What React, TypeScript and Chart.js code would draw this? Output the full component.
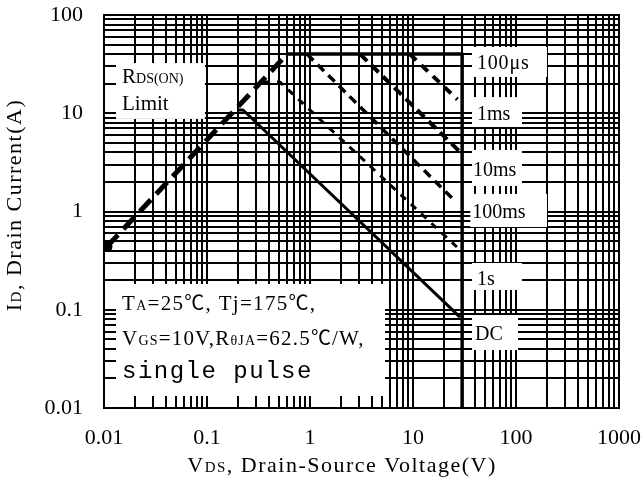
import React, { useEffect, useRef } from 'react';
import { Chart, registerables } from 'chart.js';

Chart.register(...registerables);

// ---- axes ----
const xDecades = [0.01, 0.1, 1, 10, 100];
const xLast = 1000;
const yDecades = [0.01, 0.1, 1, 10];
const yLast = 100;
const minorSteps = [1, 2, 3, 4, 5, 6, 7, 8, 9];
const xTickLabelValues = [0.01, 0.1, 1, 10, 100, 1000];
const xTickLabels = ['0.01', '0.1', '1', '10', '100', '1000'];
const yTickLabelValues = [0.01, 0.1, 1, 10, 100];
const yTickLabels = ['0.01', '0.1', '1', '10', '100'];

// ---- series (V, A) ----
const rdsLimitV = [0.0107, 0.6];
const rdsLimitA = [0.44, 40];
const packageLimitV = [0.6, 30, 30];
const packageLimitA = [40, 40, 0.01];
const pulse100usV = [9.3, 27];
const pulse100usA = [40, 13.8];
const pulse1msV = [3.06, 28.6];
const pulse1msA = [40, 4.04];
const pulse10msV = [0.935, 23.9];
const pulse10msA = [40, 1.37];
const pulse100msV = [0.35, 0.51, 26.7];
const pulse100msA = [20.8, 20.8, 0.435];
const dcV = [0.2, 0.224, 28.6];
const dcA = [10.8, 10.8, 0.084];

// ---- texts ----
const SERIF = '"Liberation Serif", "Times New Roman", "Noto Sans CJK TC", serif';
const MONO = '"Liberation Mono", "Courier New", monospace';
const CJK = '"Noto Sans CJK TC", "Noto Sans CJK SC", sans-serif';
type Part = [string, number, string?];
const xTitleParts: Part[] = [['V', 22], ['DS', 15], [', Drain-Source Voltage(V)', 22]];
const yTitleParts: Part[] = [['I', 22], ['D', 15], [', Drain Current(A)', 22]];

interface Box {
  x0: number; x1: number; y0: number; y1: number;
  lines: { parts: Part[]; dx: number; dy: number; spacing?: number }[];
}
const boxes: Box[] = [
  { x0: 0.01308, x1: 0.0954, y0: 32.4, y1: 8.76, lines: [
    { parts: [['R', 21], ['DS(ON)', 14]], dx: 6, dy: 20 },
    { parts: [['Limit', 21]], dx: 6, dy: 47 },
  ] },
  { x0: 0.01308, x1: 5.35, y0: 0.183, y1: 0.01324, lines: [
    { parts: [['T', 21], ['A', 14], ['=25', 21], ['℃', 20, CJK], [', Tj=175', 21], ['℃', 20, CJK], [',', 21]], dx: 6, dy: 26, spacing: 1.3 },
    { parts: [['V', 21], ['GS', 14], ['=10V,', 21], ['R', 21], ['θJA', 14], ['=62.5', 21], ['℃', 20, CJK], ['/W,', 21]], dx: 6, dy: 61, spacing: 1.2 },
    { parts: [['single pulse', 24, MONO]], dx: 6, dy: 94, spacing: 1.5 },
  ] },
  { x0: 37.4, x1: 200, y0: 47.2, y1: 23.4, lines: [{ parts: [['100μs', 20]], dx: 5, dy: 22, spacing: 0.8 }] },
  { x0: 37.4, x1: 114.3, y0: 14.6, y1: 7.24, lines: [{ parts: [['1ms', 20]], dx: 5, dy: 23 }] },
  { x0: 37.4, x1: 114.3, y0: 4.23, y1: 1.82, lines: [{ parts: [['10ms', 20]], dx: 1, dy: 26 }] },
  { x0: 36.0, x1: 200, y0: 1.51, y1: 0.695, lines: [{ parts: [['100ms', 20]], dx: 2, dy: 24 }] },
  { x0: 37.4, x1: 114.3, y0: 0.299, y1: 0.159, lines: [{ parts: [['1s', 20]], dx: 5, dy: 22 }] },
  { x0: 37.4, x1: 104.6, y0: 0.0884, y1: 0.0389, lines: [{ parts: [['DC', 20]], dx: 3, dy: 25 }] },
];

function fontOf(p: Part) {
  return `${p[1]}px ${p[2] || SERIF}`;
}
function drawParts(ctx: CanvasRenderingContext2D, parts: Part[], x: number, y: number, center = false, spacing = 0) {
  ctx.save();
  (ctx as any).letterSpacing = `${spacing}px`;
  const widths = parts.map((p) => { ctx.font = fontOf(p); return ctx.measureText(p[0]).width; });
  const total = widths.reduce((a, b) => a + b, 0);
  let cx = center ? x - total / 2 : x;
  ctx.fillStyle = '#000';
  ctx.textBaseline = 'alphabetic';
  ctx.textAlign = 'left';
  parts.forEach((p, i) => { ctx.font = fontOf(p); ctx.fillText(p[0], cx, y); cx += widths[i]; });
  ctx.restore();
}

const pts = (xs: number[], ys: number[]) => xs.map((x, i) => ({ x, y: ys[i] }));
const near = (a: number, b: number) => Math.abs(Math.log10(a) - Math.log10(b)) < 1e-6;

const overlay = {
  id: 'overlay',
  beforeDatasetsDraw(chart: any) {
    const { ctx, chartArea } = chart;
    const xs = chart.scales.x;
    const ys = chart.scales.y;
    ctx.save();
    boxes.forEach((b) => {
      const l = xs.getPixelForValue(b.x0);
      const r = xs.getPixelForValue(b.x1);
      const t = ys.getPixelForValue(b.y0);
      const bt = ys.getPixelForValue(b.y1);
      ctx.fillStyle = '#fff';
      ctx.fillRect(l, t, r - l, bt - t);
      b.lines.forEach((ln) => drawParts(ctx, ln.parts, l + ln.dx, t + ln.dy, false, ln.spacing || 0));
    });
    // frame
    ctx.strokeStyle = '#000';
    ctx.lineWidth = 2;
    ctx.strokeRect(chartArea.left, chartArea.top, chartArea.right - chartArea.left, chartArea.bottom - chartArea.top);
    // axis titles
    drawParts(ctx, xTitleParts, 342, 472, true, 1.5);
    ctx.save();
    ctx.translate(21, 205);
    ctx.rotate(-Math.PI / 2);
    drawParts(ctx, yTitleParts, 0, 0, true, 1.5);
    ctx.restore();
    ctx.restore();
  },
};

export default function App() {
  const ref = useRef<HTMLCanvasElement>(null);
  useEffect(() => {
    document.body.style.margin = '0';
    const xTicks = [...xDecades.flatMap((d) => minorSteps.map((m) => d * m)), xLast];
    const yTicks = [...yDecades.flatMap((d) => minorSteps.map((m) => d * m)), yLast];
    const line = (data: any[], width: number, dash: number[], extra: any = {}) => ({
      data, showLine: true, borderColor: '#000', backgroundColor: '#000', borderWidth: width,
      borderDash: dash, pointRadius: 0, tension: 0, borderCapStyle: 'butt', borderJoinStyle: 'round', ...extra,
    });
    const chart = new Chart(ref.current!, {
      type: 'scatter',
      data: {
        datasets: [
          line(pts(packageLimitV, packageLimitA), 3.5, []),
          line(pts(rdsLimitV, rdsLimitA), 5, [16, 8], { pointRadius: [3, 0], pointStyle: 'circle' }),
          line(pts(pulse100usV, pulse100usA), 4, [9, 7]),
          line(pts(pulse1msV, pulse1msA), 4, [10, 6]),
          line(pts(pulse10msV, pulse10msA), 3.5, [9, 6]),
          line(pts(pulse100msV, pulse100msA), 3, [7, 7]),
          line(pts(dcV, dcA), 3, []),
        ] as any,
      },
      options: {
        animation: false,
        responsive: false,
        devicePixelRatio: 1,
        layout: { padding: { left: 0, top: 15, right: 24, bottom: 0 } },
        plugins: { legend: { display: false }, tooltip: { enabled: false } },
        scales: {
          x: {
            type: 'logarithmic', min: 0.01, max: 1000,
            afterBuildTicks: (s: any) => { s.ticks = xTicks.map((v) => ({ value: v })); },
            afterFit: (s: any) => { s.height = 76; s.paddingLeft = 0; s.paddingRight = 0; },
            grid: { color: '#000', lineWidth: 2, drawTicks: false },
            border: { display: false },
            ticks: {
              autoSkip: false, maxRotation: 0, padding: 17, color: '#000',
              font: { family: SERIF, size: 22 },
              callback: (v: any) => { const i = xTickLabelValues.findIndex((m) => near(Number(v), m)); return i >= 0 ? xTickLabels[i] : ''; },
            },
          },
          y: {
            type: 'logarithmic', min: 0.01, max: 100,
            afterBuildTicks: (s: any) => { s.ticks = yTicks.map((v) => ({ value: v })); },
            afterFit: (s: any) => { s.width = 104; s.paddingTop = 0; s.paddingBottom = 0; },
            grid: { color: '#000', lineWidth: 2, drawTicks: false },
            border: { display: false },
            ticks: {
              autoSkip: false, padding: 21, color: '#000',
              font: { family: SERIF, size: 22 },
              callback: (v: any) => { const i = yTickLabelValues.findIndex((m) => near(Number(v), m)); return i >= 0 ? yTickLabels[i] : ''; },
            },
          },
        },
      } as any,
      plugins: [overlay],
    });
    return () => chart.destroy();
  }, []);
  return (
    <div style={{ width: 643, height: 484, background: '#fff' }}>
      <canvas ref={ref} width={643} height={484} style={{ display: 'block' }} />
    </div>
  );
}
